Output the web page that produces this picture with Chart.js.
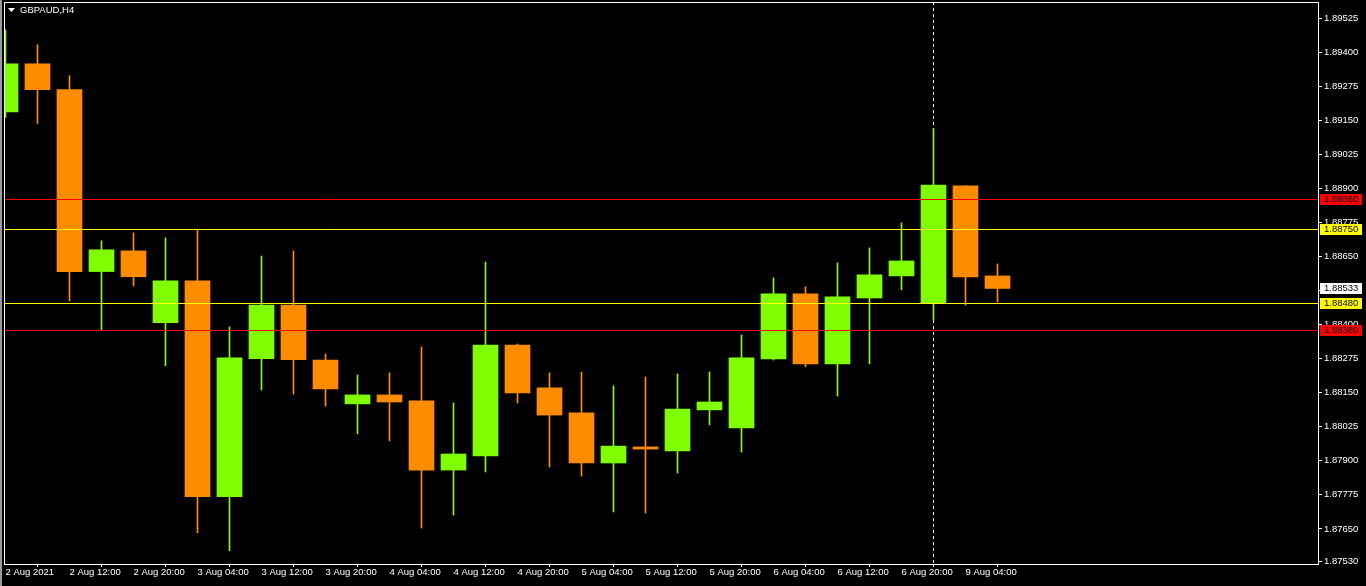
<!DOCTYPE html>
<html>
<head>
<meta charset="utf-8">
<title>GBPAUD,H4</title>
<script src="https://cdn.jsdelivr.net/npm/chart.js@4.4.1/dist/chart.umd.min.js"></script>
<style>
  html, body { margin: 0; padding: 0; background: #000; }
  canvas { display: block; }
</style>
</head>
<body>
<canvas id="chart" width="1366" height="586"></canvas>
<script>
// Données GBPAUD H4
const symbolTitle = 'GBPAUD,H4';
const opens  = [1.89181, 1.89358, 1.89263, 1.88595, 1.88671, 1.88407, 1.88561, 1.87768, 1.88275, 1.88472, 1.88270, 1.88109, 1.88142, 1.88120, 1.87866, 1.87918, 1.88325, 1.88168, 1.88076, 1.87892, 1.87951, 1.87936, 1.88087, 1.88021, 1.88274, 1.88513, 1.88256, 1.88498, 1.88579, 1.88480, 1.88910, 1.88579];
const highs  = [1.89483, 1.89428, 1.89314, 1.88708, 1.88737, 1.88719, 1.88751, 1.88392, 1.88652, 1.88671, 1.88292, 1.88215, 1.88223, 1.88318, 1.88112, 1.88630, 1.88329, 1.88223, 1.88226, 1.88175, 1.88208, 1.88219, 1.88226, 1.88362, 1.88572, 1.88539, 1.88627, 1.88682, 1.88774, 1.89119, 1.88910, 1.88623];
const lows   = [1.89161, 1.89139, 1.88488, 1.88381, 1.88543, 1.88249, 1.87636, 1.87570, 1.88160, 1.88145, 1.88101, 1.87999, 1.87973, 1.87653, 1.87701, 1.87859, 1.88112, 1.87877, 1.87844, 1.87712, 1.87708, 1.87855, 1.88032, 1.87932, 1.88270, 1.88245, 1.88138, 1.88256, 1.88528, 1.88417, 1.88472, 1.88483];
const closes = [1.89358, 1.89263, 1.88595, 1.88675, 1.88576, 1.88561, 1.87768, 1.88278, 1.88472, 1.88271, 1.88164, 1.88142, 1.88116, 1.87866, 1.87925, 1.88325, 1.88149, 1.88068, 1.87892, 1.87954, 1.87943, 1.88090, 1.88116, 1.88278, 1.88513, 1.88256, 1.88502, 1.88583, 1.88634, 1.88913, 1.88575, 1.88533];

// une étiquette toutes les 2 bougies
const tickLabels = ['2 Aug 2021', '2 Aug 12:00', '2 Aug 20:00', '3 Aug 04:00', '3 Aug 12:00', '3 Aug 20:00',
  '4 Aug 04:00', '4 Aug 12:00', '4 Aug 20:00', '5 Aug 04:00', '5 Aug 12:00', '5 Aug 20:00',
  '6 Aug 04:00', '6 Aug 12:00', '6 Aug 20:00', '9 Aug 04:00'];
const priceTicks = [1.87530, 1.87650, 1.87775, 1.87900, 1.88025, 1.88150, 1.88275, 1.88400, 1.88525,
  1.88650, 1.88775, 1.88900, 1.89025, 1.89150, 1.89275, 1.89400, 1.89525];

// lignes horizontales + prix courant
const levelPrices = [1.88860, 1.88750, 1.88480, 1.88380];
const lastPrice = 1.88533;
const separatorBar = 29;

const BULL = '#7fff00';
const BEAR = '#ff8c00';
const levelColors = ['#ff0000', '#ffff00', '#ffff00', '#ff0000'];
const FONT = { family: '"Liberation Sans", Arial, sans-serif', size: 9.5 };
const fontStr = '9.5px "Liberation Sans", Arial, sans-serif';

const candleColors = closes.map((c, i) => c >= opens[i] ? BULL : BEAR);
const wicks = lows.map((l, i) => ({ x: i, y: [l, highs[i]] }));
const bodies = opens.map((o, i) => ({ x: i, y: [o, closes[i]] }));

const noPadding = (s) => {
    s.paddingTop = 0;
    s.paddingBottom = 0;
    s.paddingLeft = 0;
    s.paddingRight = 0;
};

const mtOverlay = {
    id: 'mtOverlay',
    beforeDraw(chart) {
        const ctx = chart.ctx;
        ctx.save();
        ctx.fillStyle = '#000';
        ctx.fillRect(0, 0, chart.width, chart.height);
        ctx.fillStyle = '#9a9a9a';
        ctx.fillRect(0, 0, 2, chart.height);
        ctx.restore();
    },
    beforeDatasetsDraw(chart) {
        // séparateur pointillé
        const { ctx, chartArea: a, scales: { x } } = chart;
        const px = Math.round(x.getPixelForValue(separatorBar) - 0.5) + 0.5;
        ctx.save();
        ctx.strokeStyle = '#ffffff';
        ctx.lineWidth = 1;
        ctx.setLineDash([3, 3]);
        ctx.beginPath();
        ctx.moveTo(px, a.top);
        ctx.lineTo(px, a.bottom);
        ctx.stroke();
        ctx.restore();
    },
    afterDatasetsDraw(chart) {
        const { ctx, chartArea: a, scales: { y } } = chart;
        ctx.save();
        ctx.lineWidth = 1;
        levelPrices.forEach((p, i) => {
            const py = Math.round(y.getPixelForValue(p)) + 0.5;
            ctx.strokeStyle = levelColors[i];
            ctx.beginPath();
            ctx.moveTo(a.left, py);
            ctx.lineTo(a.right, py);
            ctx.stroke();
        });
        ctx.restore();
    },
    afterDraw(chart) {
        const { ctx, chartArea: a, scales: { y } } = chart;
        ctx.save();
        // cadre
        ctx.strokeStyle = '#ffffff';
        ctx.lineWidth = 1;
        ctx.strokeRect(a.left + 0.5, a.top + 0.5, a.right - a.left, a.bottom - a.top);

        // titre
        ctx.fillStyle = '#ffffff';
        ctx.beginPath();
        ctx.moveTo(8, 8);
        ctx.lineTo(15, 8);
        ctx.lineTo(11.5, 12);
        ctx.closePath();
        ctx.fill();
        ctx.font = fontStr;
        ctx.textBaseline = 'middle';
        ctx.textAlign = 'left';
        ctx.fillText(symbolTitle, 20, 10.5);

        // étiquettes de prix sur l'axe
        const marks = levelPrices.map((p, i) => ({ p, c: levelColors[i] }));
        marks.push({ p: lastPrice, c: '#ffffff' });
        marks.forEach(m => {
            const py = Math.round(y.getPixelForValue(m.p));
            ctx.fillStyle = m.c;
            ctx.fillRect(a.right + 2, py - 5, 42, 11);
            ctx.fillStyle = '#000000';
            ctx.fillText(m.p.toFixed(5), a.right + 6, py + 0.5);
        });
        ctx.restore();
    }
};

new Chart(document.getElementById('chart'), {
    type: 'bar',
    data: {
        datasets: [
            {
                data: wicks,
                backgroundColor: candleColors,
                barThickness: 1,
                grouped: false,
                borderWidth: 0
            },
            {
                data: bodies,
                backgroundColor: candleColors,
                barThickness: 25,
                minBarLength: 1,
                grouped: false,
                borderWidth: 0
            }
        ]
    },
    options: {
        responsive: false,
        animation: false,
        layout: { padding: { left: 4, top: 2, right: 0, bottom: 0 } },
        plugins: {
            legend: { display: false },
            tooltip: { enabled: false }
        },
        scales: {
            x: {
                type: 'linear',
                offset: false,
                min: -1.5 / 32,
                max: -1.5 / 32 + 1314 / 32,
                afterBuildTicks: (s) => { s.ticks = tickLabels.map((_, i) => ({ value: i * 2 })); },
                afterFit: (s) => { s.height = 22; noPadding(s); },
                ticks: {
                    color: '#ffffff',
                    font: FONT,
                    padding: 0,
                    align: 'start',
                    maxRotation: 0,
                    autoSkip: false,
                    callback: (v, i) => tickLabels[i]
                },
                grid: { drawOnChartArea: false, color: '#ffffff', tickLength: 3 },
                border: { color: '#ffffff' }
            },
            y: {
                position: 'right',
                min: 1.87521,
                max: 1.89585,
                afterBuildTicks: (s) => { s.ticks = priceTicks.map(v => ({ value: v })); },
                afterFit: (s) => { s.width = 48; noPadding(s); },
                ticks: {
                    color: '#ffffff',
                    font: FONT,
                    padding: 2,
                    callback: (v) => v.toFixed(5)
                },
                grid: { drawOnChartArea: false, color: '#ffffff', tickLength: 4 },
                border: { color: '#ffffff' }
            }
        }
    },
    plugins: [mtOverlay]
});
</script>
</body>
</html>
